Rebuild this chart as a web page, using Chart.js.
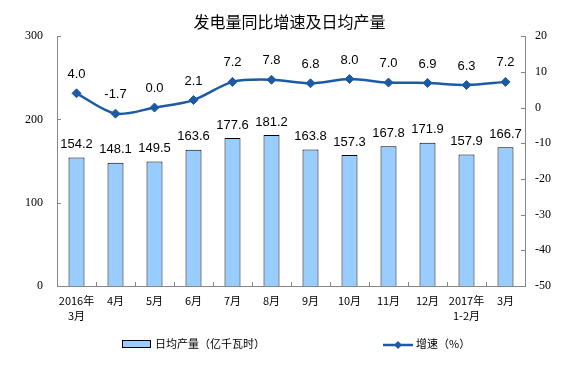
<!DOCTYPE html>
<html><head><meta charset="utf-8">
<script src="https://cdn.jsdelivr.net/npm/chart.js@4"></script>
<style>html,body{margin:0;padding:0;background:#fff}#wrap{width:579px;height:380px;position:relative}</style>
</head><body><div id="wrap"><canvas id="c" width="579" height="380"></canvas></div>
<script>
const categories = [['2016年','3月'],'4月','5月','6月','7月','8月','9月','10月','11月','12月',['2017年','1-2月'],'3月'];
const dailyOutput = [154.2,148.1,149.5,163.6,177.6,181.2,163.8,157.3,167.8,171.9,157.9,166.7];
const growthRate = [4.0,-1.7,0.0,2.1,7.2,7.8,6.8,8.0,7.0,6.9,6.3,7.2];
const leftTicks = [0,100,200,300];
const rightTicks = [-50,-40,-30,-20,-10,0,10,20];
const titleText = '发电量同比增速及日均产量';
const barLegend = '日均产量（亿千瓦时）';
const lineLegend = '增速（%）';

const BAR_FILL = '#99CCFF', BAR_EDGE = '#000000', LINE_COL = '#1c5aa3', AXIS_COL = '#868686';
const CJK = "'Noto Sans CJK SC', sans-serif";
const SANS = "'Liberation Sans', Arial, sans-serif";
const SERIF = "'Liberation Serif', 'Times New Roman', serif";

const extras = {
  id: 'extras',
  afterDatasetsDraw(chart) {
    const ctx = chart.ctx;
    ctx.save();
    ctx.fillStyle = '#000';
    ctx.font = '13px ' + SANS;
    ctx.textAlign = 'center';
    ctx.textBaseline = 'middle';
    const barMeta = chart.getDatasetMeta(0);
    barMeta.data.forEach((el, i) => {
      ctx.fillText(dailyOutput[i].toFixed(1), el.x, el.y - 13);
    });
    const lineMeta = chart.getDatasetMeta(1);
    lineMeta.data.forEach((el, i) => {
      ctx.fillText(growthRate[i].toFixed(1), el.x, el.y - 19);
    });
    ctx.restore();
  },
  afterDraw(chart) {
    const ctx = chart.ctx;
    const area = chart.chartArea;
    const x = chart.scales.x, yl = chart.scales.y, yr = chart.scales.y1;
    ctx.save();
    ctx.strokeStyle = AXIS_COL;
    ctx.lineWidth = 1;
    ctx.beginPath();
    yl.ticks.forEach((t, i) => {
      const py = Math.round(yl.getPixelForTick(i)) + 0.5;
      ctx.moveTo(area.left, py); ctx.lineTo(area.left + 4, py);
    });
    yr.ticks.forEach((t, i) => {
      const py = Math.round(yr.getPixelForTick(i)) + 0.5;
      ctx.moveTo(area.right, py); ctx.lineTo(area.right - 4, py);
    });
    for (let i = 0; i < categories.length - 1; i++) {
      const px = Math.round((x.getPixelForValue(i) + x.getPixelForValue(i + 1)) / 2) + 0.5;
      ctx.moveTo(px, area.bottom); ctx.lineTo(px, area.bottom - 4);
    }
    ctx.stroke();

    // legend
    const ly = 344;
    ctx.fillStyle = BAR_FILL;
    ctx.fillRect(122, ly - 3, 28, 6);
    ctx.strokeStyle = BAR_EDGE;
    ctx.strokeRect(122.5, ly - 3.5, 28, 7);
    ctx.fillStyle = '#000';
    ctx.font = '11px ' + CJK;
    ctx.textAlign = 'left';
    ctx.textBaseline = 'middle';
    ctx.fillText(barLegend, 155, ly);
    ctx.strokeStyle = LINE_COL;
    ctx.lineWidth = 2.5;
    ctx.beginPath();
    ctx.moveTo(383, ly + 1); ctx.lineTo(413, ly + 1);
    ctx.stroke();
    ctx.fillStyle = LINE_COL;
    ctx.beginPath();
    ctx.moveTo(398, ly + 1 - 4); ctx.lineTo(402, ly + 1); ctx.lineTo(398, ly + 5); ctx.lineTo(394, ly + 1);
    ctx.closePath(); ctx.fill();
    ctx.fillStyle = '#000';
    ctx.fillText(lineLegend, 416, ly);
    ctx.restore();
  }
};

new Chart(document.getElementById('c'), {
  data: {
    labels: categories,
    datasets: [
      {
        type: 'bar', label: barLegend, data: dailyOutput, yAxisID: 'y', order: 1,
        backgroundColor: BAR_FILL, borderColor: BAR_EDGE, borderWidth: 1,
        barPercentage: 0.41, categoryPercentage: 1
      },
      {
        type: 'line', label: lineLegend, data: growthRate, yAxisID: 'y1', order: 0,
        borderColor: LINE_COL, backgroundColor: LINE_COL, borderWidth: 2.5,
        tension: 0.3, pointStyle: 'rectRot', pointRadius: 4.5, pointHoverRadius: 4.5,
        pointBackgroundColor: LINE_COL, pointBorderColor: LINE_COL, pointBorderWidth: 1
      }
    ]
  },
  options: {
    responsive: false, animation: false, devicePixelRatio: 1,
    layout: { padding: 0 },
    plugins: {
      legend: { display: false },
      tooltip: { enabled: false },
      title: {
        display: true, text: titleText, color: '#000',
        font: { family: CJK, size: 16, weight: 'normal', lineHeight: 1.2 },
        padding: { top: 12, bottom: 5 }
      }
    },
    scales: {
      x: {
        type: 'category', offset: true,
        grid: { display: false, drawTicks: false },
        border: { display: true, color: AXIS_COL, width: 1 },
        ticks: { color: '#000', font: { family: CJK, size: 11, lineHeight: '15px' }, padding: 7, maxRotation: 0, autoSkip: false },
        afterFit(s) { s.height = 94; }
      },
      y: {
        position: 'left', min: 0, max: 300,
        grid: { display: false, drawTicks: false },
        border: { display: true, color: AXIS_COL, width: 1 },
        ticks: { color: '#000', font: { family: SERIF, size: 12 }, padding: 14, callback: v => String(v) },
        afterBuildTicks(s) { s.ticks = leftTicks.map(v => ({ value: v })); },
        afterFit(s) { s.width = 57; }
      },
      y1: {
        position: 'right', min: -50, max: 20,
        grid: { display: false, drawTicks: false },
        border: { display: true, color: AXIS_COL, width: 1 },
        ticks: { color: '#000', font: { family: SERIF, size: 12 }, padding: 10, callback: v => String(v) },
        afterBuildTicks(s) { s.ticks = rightTicks.map(v => ({ value: v })); },
        afterFit(s) { s.width = 54; }
      }
    }
  },
  plugins: [extras]
});
</script></body></html>
